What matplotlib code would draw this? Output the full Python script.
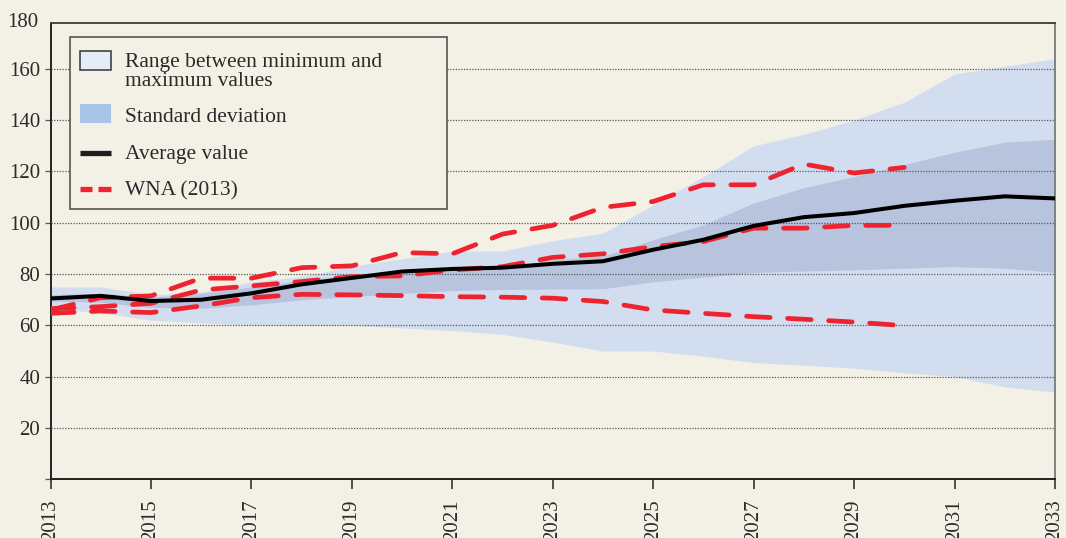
import matplotlib
matplotlib.use("Agg")
import matplotlib.pyplot as plt
from matplotlib.patches import Rectangle

years = list(range(2013, 2034))

range_max = [75, 75, 72, 73, 77, 79, 83, 86, 89, 89, 93, 96, 107, 118, 130, 134.5, 140, 147, 158, 161, 164]
range_min = [66.5, 65, 62, 61, 60, 60, 60, 59, 58, 56.5, 53.5, 50, 50, 48, 45.5, 44.5, 43.3, 41.5, 40, 36, 34]
std_upper = [72, 72.5, 71, 72.5, 75, 77.5, 79.7, 81, 81.8, 82.5, 85.5, 87, 93.4, 99.2, 107.7, 113.7, 118, 122.7, 127.5, 131.4, 132.6]
std_lower = [69.5, 69, 67, 66.7, 68, 70, 71.2, 72.5, 73.6, 74, 74.2, 74.3, 77, 78.8, 80.6, 81.2, 81.6, 82.3, 82.9, 82.3, 80.6]
average = [70.5, 71.5, 69.5, 70, 72.5, 76, 78.5, 81, 82, 82.5, 84, 85, 89.5, 93.4, 98.8, 102.2, 103.8, 106.6, 108.6, 110.3, 109.5]

wna_years = list(range(2013, 2031))
wna_high = [66, 70.8, 71.5, 78.4, 78.4, 82.5, 83.2, 88.4, 87.9, 95.6, 99, 106, 108.3, 114.8, 114.8, 122.9, 119.4, 121.6]
wna_mid = [66.5, 67.3, 68.6, 73.8, 75.4, 77.1, 79, 79.3, 81.6, 82.9, 86.5, 87.9, 90.7, 92.7, 97.9, 97.9, 99, 99]
wna_low = [64.7, 65.6, 65, 67.6, 70.8, 72.1, 71.9, 71.6, 71.2, 71, 70.6, 69.3, 66, 64.7, 63.4, 62.4, 61.3, 59.9]

x_ticks = list(range(2013, 2034, 2))
y_ticks = [20, 40, 60, 80, 100, 120, 140, 160]

legend_labels = [
    ["Range between minimum and", "maximum values"],
    ["Standard deviation"],
    ["Average value"],
    ["WNA (2013)"],
]

bg = "#F3F0E5"
light_blue = "#D2DEF0"
mid_blue = "#B8C3DE"
red = "#EE2330"
ink = "#2A2A2A"

plt.rcParams["font.family"] = ["Liberation Serif", "DejaVu Serif"]

W, H = 1066, 538
fig = plt.figure(figsize=(W / 100, H / 100), dpi=100, facecolor=bg)
ax = fig.add_axes([50.5 / W, (H - 479.3) / H, (1055 - 50.5) / W, (479.3 - 22.7) / H])
ax.set_facecolor(bg)

# bands
ax.fill_between(years, range_min, range_max, color=light_blue, lw=0, zorder=1)
ax.fill_between(years, std_lower, std_upper, color=mid_blue, lw=0, zorder=2)

# dotted grid
for yv in y_ticks:
    ax.axhline(yv, color="#555555", lw=0.9, ls=(0, (1, 1.2)), zorder=3)

# scenario lines
dash = (0, (5.0, 3.7))
for series in (wna_high, wna_mid, wna_low):
    ax.plot(wna_years, series, color=red, lw=3.4, ls=dash, dash_capstyle="round", zorder=4)
ax.plot(years, average, color="black", lw=2.9, zorder=5, solid_capstyle="round")

ax.set_xlim(2013, 2033)
ax.set_ylim(0, 178)
ax.set_xticks(x_ticks)
ax.set_xticklabels([str(v) for v in x_ticks], rotation=90, fontsize=15, color=ink)
ax.set_yticks([0] + y_ticks)
ax.set_yticklabels([""] + [str(v) for v in y_ticks], fontsize=15, color=ink)
ax.text(-0.012, 178, "180", transform=ax.get_yaxis_transform(), ha="right", va="center",
        fontsize=15, color=ink, clip_on=False)

ax.tick_params(axis="x", direction="out", length=7, width=1.2, color="#333333", pad=7.5)
ax.tick_params(axis="y", direction="out", length=4.5, width=0.9, color="#555555", pad=3)

for side in ["left", "bottom"]:
    ax.spines[side].set_color("#222222")
    ax.spines[side].set_linewidth(1.4)
ax.spines["top"].set_color("#3A3A3A")
ax.spines["top"].set_linewidth(1.3)
ax.spines["right"].set_color("#7A7A7A")
ax.spines["right"].set_linewidth(1.3)

# key box drawn in pixel coordinates on an overlay
lax = fig.add_axes([0, 0, 1, 1], zorder=10)
lax.set_xlim(0, W)
lax.set_ylim(H, 0)
lax.axis("off")
lax.patch.set_alpha(0)

lax.add_patch(Rectangle((70, 37.3), 377, 171.5, facecolor=bg, edgecolor="#555555", lw=1.2))
lax.add_patch(Rectangle((80, 51), 31, 19, facecolor="#E3ECF7", edgecolor="#333333", lw=1.1))
lax.add_patch(Rectangle((80, 104), 31, 19, facecolor="#A9C4E6", edgecolor="none"))
lax.plot([80, 111], [153, 153], color="#1E1E1E", lw=3.8, solid_capstyle="butt")
lax.plot([80, 92], [188.5, 188.5], color=red, lw=3.8, solid_capstyle="butt")
lax.plot([98, 111], [188.5, 188.5], color=red, lw=3.8, solid_capstyle="butt")

baselines = [[67.5, 86], [122], [158.5], [195]]
for lines, bls in zip(legend_labels, baselines):
    for txt, b in zip(lines, bls):
        lax.text(125, b, txt, fontsize=15.5, color=ink, ha="left", va="baseline")

fig.savefig("out.png", dpi=100, facecolor=bg)
